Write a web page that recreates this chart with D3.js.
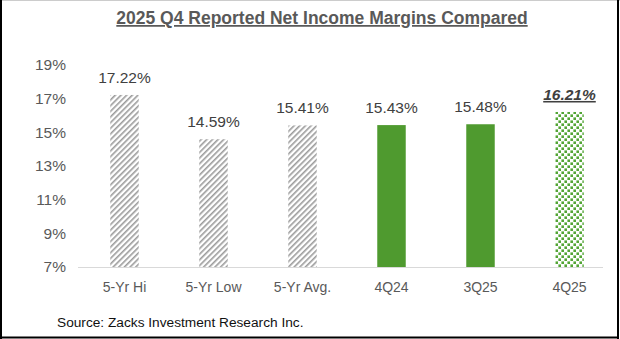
<!DOCTYPE html>
<html><head><meta charset="utf-8">
<script src="https://cdn.jsdelivr.net/npm/d3@7"></script>
<style>html,body{margin:0;padding:0;background:#fff;}svg{display:block;font-family:"Liberation Sans",Arial,sans-serif;}</style>
</head><body>
<svg id="c" width="620" height="339"></svg>
<script>
const categories = ["5-Yr Hi","5-Yr Low","5-Yr Avg.","4Q24","3Q25","4Q25"];
const values = [17.22,14.59,15.41,15.43,15.48,16.21];
const fills = ["hatch","hatch","hatch","solid","solid","dots"];
const yTicks = [7,9,11,13,15,17,19];
const title = "2025 Q4 Reported Net Income Margins Compared";
const source = "Source: Zacks Investment Research Inc.";

const svg = d3.select("#c");
const W = 620, H = 339;
const green = "#4f9a2f";

const defs = svg.append("defs");
const hp = defs.append("pattern").attr("id","hatch").attr("patternUnits","userSpaceOnUse")
  .attr("width",4).attr("height",4).attr("patternTransform","rotate(45)");
hp.append("rect").attr("width",4).attr("height",4).attr("fill","#fff");
hp.append("rect").attr("x",0).attr("width",1.6).attr("height",4).attr("fill","#9b9b9b");

const dp = defs.append("pattern").attr("id","dots").attr("patternUnits","userSpaceOnUse")
  .attr("width",6).attr("height",6);
dp.append("rect").attr("width",6).attr("height",6).attr("fill","#fff");
dp.append("rect").attr("x",0.4).attr("y",0.4).attr("width",2.6).attr("height",2.6).attr("fill","#52a534");
dp.append("rect").attr("x",3.4).attr("y",3.4).attr("width",2.6).attr("height",2.6).attr("fill","#52a534");

svg.append("rect").attr("x",0).attr("y",0).attr("width",W).attr("height",H).attr("fill","#fff");

const x = d3.scaleBand().domain(categories).range([80,614]).paddingInner(0.68).paddingOuter(0.34);
const y = d3.scaleLinear().domain([7,19]).range([267,65]);

// title
svg.append("text").attr("x",322).attr("y",24).attr("text-anchor","middle")
  .attr("font-size",17.5).attr("font-weight","bold").attr("fill","#595959")
  .attr("text-decoration","underline").text(title);

// y axis labels
const yAxis = d3.axisLeft(y).tickValues(yTicks).tickFormat(d=>d+"%").tickSize(0).tickPadding(0);
const ya = svg.append("g").attr("transform","translate(66,0)").call(yAxis);
ya.select(".domain").remove();
ya.selectAll("text").attr("font-size",15.5).attr("fill","#595959").attr("font-family","Liberation Sans, Arial, sans-serif");

// bars
svg.selectAll("rect.bar").data(categories).join("rect").attr("class","bar")
  .attr("x",d=>x(d)).attr("width",x.bandwidth())
  .attr("y",(d,i)=>y(values[i])).attr("height",(d,i)=>y(7)-y(values[i]))
  .attr("fill",(d,i)=>fills[i]==="solid"?green:`url(#${fills[i]})`);

// baseline
svg.append("line").attr("x1",78).attr("x2",603).attr("y1",y(7)+0.5).attr("y2",y(7)+0.5)
  .attr("stroke","#d9d9d9").attr("stroke-width",1);

// x labels
const xAxis = d3.axisBottom(x).tickSize(0).tickPadding(0);
const xa = svg.append("g").attr("transform","translate(0,282)").call(xAxis);
xa.select(".domain").remove();
xa.selectAll("text").attr("font-size",14).attr("fill","#595959").attr("font-family","Liberation Sans, Arial, sans-serif");

// value labels
svg.selectAll("text.val").data(categories).join("text").attr("class","val")
  .attr("x",d=>x(d)+x.bandwidth()/2).attr("y",(d,i)=>y(values[i])-12)
  .attr("text-anchor","middle").attr("font-size",15.5).attr("fill","#404040")
  .attr("font-weight",(d,i)=>i===5?"bold":null).attr("font-style",(d,i)=>i===5?"italic":null)
  .attr("text-decoration",(d,i)=>i===5?"underline":null)
  .text((d,i)=>values[i].toFixed(2)+"%");

// source
svg.append("text").attr("x",57).attr("y",327).attr("font-size",13.7).attr("fill","#111").text(source);

// border
svg.append("line").attr("x1",0).attr("x2",W).attr("y1",0.5).attr("y2",0.5).attr("stroke","#ccc");
svg.append("line").attr("x1",1).attr("x2",1).attr("y1",0).attr("y2",H).attr("stroke","#000").attr("stroke-width",2);
svg.append("line").attr("x1",618).attr("x2",618).attr("y1",0).attr("y2",H).attr("stroke","#000").attr("stroke-width",2);
svg.append("line").attr("x1",0).attr("x2",619).attr("y1",337.5).attr("y2",337.5).attr("stroke","#000").attr("stroke-width",2);
</script>
</body></html>
